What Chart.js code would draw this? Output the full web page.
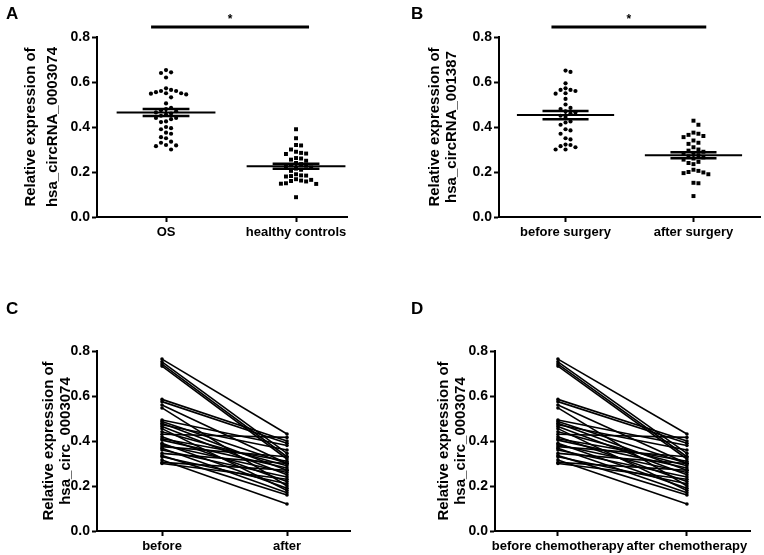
<!DOCTYPE html>
<html>
<head>
<meta charset="utf-8">
<script src="https://cdn.jsdelivr.net/npm/chart.js@4/dist/chart.umd.min.js"></script>
<style>
  body { margin: 0; background: #fff; }
  #fig { position: relative; width: 764px; height: 555px; background: #fff; }
  .panel { position: absolute; }
  .tag { position: absolute; font: bold 17px 'Liberation Sans', Arial, sans-serif; color: #000; }
</style>
</head>
<body>
<div id="fig">
  <canvas class="panel" id="chartA" width="382" height="250" style="left:0;top:0"></canvas>
  <canvas class="panel" id="chartB" width="382" height="250" style="left:382px;top:0"></canvas>
  <canvas class="panel" id="chartC" width="382" height="280" style="left:0;top:275px"></canvas>
  <canvas class="panel" id="chartD" width="382" height="280" style="left:382px;top:275px"></canvas>
  <div class="tag" style="left:6px;top:4px">A</div>
  <div class="tag" style="left:411px;top:4px">B</div>
  <div class="tag" style="left:6px;top:299px">C</div>
  <div class="tag" style="left:411px;top:299px">D</div>
</div>
<script>
// ── Data ────────────────────────────────────────────────
const yTicks = [0, 0.2, 0.4, 0.6, 0.8];

const catsA = ['OS', 'healthy controls'];
const osVals = [0.653, 0.643, 0.64, 0.62, 0.572, 0.565, 0.56, 0.56, 0.555, 0.55, 0.55, 0.548, 0.545,
  0.532, 0.505, 0.485, 0.48, 0.475, 0.47, 0.465, 0.46, 0.455, 0.45, 0.44, 0.44, 0.435, 0.425, 0.422,
  0.40, 0.395, 0.39, 0.375, 0.37, 0.355, 0.35, 0.335, 0.33, 0.32, 0.318, 0.315, 0.30];
const hcVals = [0.39, 0.35, 0.32, 0.318, 0.30, 0.29, 0.285, 0.282, 0.28, 0.262, 0.26, 0.255, 0.25,
  0.24, 0.235, 0.23, 0.228, 0.225, 0.22, 0.215, 0.21, 0.205, 0.19, 0.185, 0.184, 0.182, 0.18,
  0.168, 0.165, 0.162, 0.16, 0.158, 0.15, 0.148, 0.147, 0.088];

const catsB = ['before surgery', 'after surgery'];
const preSurg = [0.651, 0.645, 0.594, 0.572, 0.565, 0.565, 0.56, 0.55, 0.548, 0.525, 0.50,
  0.485, 0.48, 0.47, 0.465, 0.46, 0.45, 0.445, 0.425, 0.42, 0.41, 0.39, 0.385, 0.37, 0.35, 0.345,
  0.322, 0.32, 0.315, 0.31, 0.30, 0.30];
const postSurg = [0.428, 0.41, 0.375, 0.37, 0.365, 0.36, 0.355, 0.34, 0.33, 0.325,
  0.31, 0.30, 0.295, 0.29, 0.285, 0.28, 0.275, 0.27, 0.265, 0.26, 0.255,
  0.245, 0.24, 0.235, 0.21, 0.205, 0.20, 0.198, 0.195, 0.19, 0.152, 0.15, 0.093];

const catsC = ['before', 'after'];
const catsD = ['before chemotherapy', 'after chemotherapy'];
const pairBefore = [0.764, 0.752, 0.742, 0.733, 0.585, 0.575, 0.56, 0.547, 0.493, 0.487, 0.479, 0.472,
  0.464, 0.455, 0.441, 0.43, 0.419, 0.41, 0.404, 0.39, 0.383, 0.375, 0.368, 0.36, 0.345, 0.335,
  0.33, 0.316, 0.305, 0.30];
const pairAfter = [0.431, 0.345, 0.33, 0.32, 0.40, 0.39, 0.30, 0.20, 0.38, 0.30, 0.27, 0.36,
  0.25, 0.18, 0.29, 0.416, 0.22, 0.31, 0.28, 0.19, 0.26, 0.33, 0.17, 0.24, 0.30, 0.16,
  0.21, 0.12, 0.27, 0.23];

const sigLevel = 0.844;

// ── Helpers ─────────────────────────────────────────────
const FONT = "'Liberation Sans', Arial, sans-serif";
const black = '#000';

function meanSem(vals) {
  const n = vals.length;
  const m = vals.reduce((a, b) => a + b, 0) / n;
  const sd = Math.sqrt(vals.reduce((a, b) => a + (b - m) * (b - m), 0) / (n - 1));
  return { m, sem: sd / Math.sqrt(n) };
}

// simple beeswarm: spread points sideways so they do not overlap (px per unit passed in)
function swarm(vals, center, pxX, pxY, d) {
  const placed = [];
  vals.slice().sort((a, b) => b - a).forEach(v => {
    for (let k = 0; k < 40; k++) {
      const off = (k % 2 ? 1 : -1) * Math.ceil(k / 2) * d;
      const hit = placed.some(p => {
        const dx = (p.x - center) * pxX - off, dy = (p.y - v) * pxY;
        return dx * dx + dy * dy < d * d * 0.9;
      });
      if (!hit) { placed.push({ x: center + off / pxX, y: v }); break; }
    }
  });
  return placed;
}

function seg(x1, y1, x2, y2, w) {
  return { type: 'scatter', showLine: true, data: [{ x: x1, y: y1 }, { x: x2, y: y2 }],
    borderColor: black, borderWidth: w, pointRadius: 0, clip: false };
}

function meanBars(vals, c) {
  const { m, sem } = meanSem(vals);
  return [
    seg(c - 0.38, m, c + 0.38, m, 2),
    seg(c - 0.18, m + sem, c + 0.18, m + sem, 2.5),
    seg(c - 0.18, m - sem, c + 0.18, m - sem, 2.5),
    seg(c, m - sem, c, m + sem, 2),
  ];
}

function yAxis(lines, pad, width, lh, tsize) {
  return {
    min: 0, max: 0.8,
    afterBuildTicks: s => { s.ticks = yTicks.map(v => ({ value: v })); },
    ticks: { color: black, padding: 2, font: { family: FONT, size: tsize, weight: 'bold' },
      callback: v => v.toFixed(1) },
    grid: { drawOnChartArea: false, tickLength: 5, tickWidth: 2, tickColor: black },
    border: { color: black, width: 2 },
    title: { display: true, text: lines, color: black, padding: { top: pad, bottom: 0 },
      font: { family: FONT, size: 15, weight: 'bold', lineHeight: lh } },
    afterFit: s => { s.width = width; },
  };
}

function xAxis(min, max, labels, h) {
  return {
    type: 'linear', min, max,
    afterBuildTicks: s => { s.ticks = [{ value: 1 }, { value: 2 }]; },
    ticks: { color: black, padding: 3, autoSkip: false, maxRotation: 0,
      font: { family: FONT, size: 13, weight: 'bold' },
      callback: (v, i) => labels[i] },
    grid: { drawOnChartArea: false, tickLength: 5, tickWidth: 2, tickColor: black },
    border: { color: black, width: 2 },
    afterFit: s => { s.height = h; },
  };
}

// draws the "*" over the significance bar
const starPlugin = {
  id: 'star',
  afterDatasetsDraw(chart, args, opts) {
    if (!opts || !opts.show) return;
    const ctx = chart.ctx;
    ctx.save();
    ctx.fillStyle = black;
    ctx.font = `bold 12px ${FONT}`;
    ctx.textAlign = 'center';
    ctx.textBaseline = 'middle';
    ctx.fillText('*', chart.scales.x.getPixelForValue(opts.x), chart.scales.y.getPixelForValue(opts.y));
    ctx.restore();
  },
};

function baseOpts(pad, x, y, star) {
  return {
    responsive: false, animation: false,
    layout: { padding: pad },
    plugins: { legend: { display: false }, tooltip: { enabled: false }, star: star || { show: false } },
    scales: { x, y },
  };
}

// ── Scatter panels (A, B) ───────────────────────────────
function scatterPanel(id, g1, g2, cats, xr, ywidth, titleLines, tpad, lh, right, sigX) {
  const pxX = 129, pxY = 225;
  const datasets = [
    { data: swarm(g1, 1, pxX, pxY, 5), pointStyle: 'circle', pointRadius: 2.1,
      backgroundColor: black, borderColor: black, borderWidth: 0 },
    { data: swarm(g2, 2, pxX, pxY, 5), pointStyle: 'rect', pointRadius: 2.8,
      backgroundColor: black, borderColor: black, borderWidth: 0 },
    ...meanBars(g1, 1), ...meanBars(g2, 2),
    seg(sigX[0], sigLevel, sigX[1], sigLevel, 3),
  ];
  new Chart(document.getElementById(id), {
    type: 'scatter', data: { datasets },
    options: baseOpts({ top: 37, right, left: 0, bottom: 0 },
      xAxis(xr[0], xr[1], cats, 33), yAxis(titleLines, tpad, ywidth, lh, 14),
      { show: true, x: (sigX[0] + sigX[1]) / 2, y: 0.877 }),
    plugins: [starPlugin],
  });
}

// ── Paired panels (C, D) ────────────────────────────────
function pairedPanel(id, cats, xr, ywidth, titleLines, tpad, lh, right) {
  const datasets = pairBefore.map((b, i) => ({
    showLine: true, data: [{ x: 1, y: b }, { x: 2, y: pairAfter[i] }],
    borderColor: black, borderWidth: 1.6, pointRadius: 1.8,
    backgroundColor: black, pointBorderWidth: 0,
  }));
  new Chart(document.getElementById(id), {
    type: 'scatter', data: { datasets },
    options: baseOpts({ top: 76, right, left: 0, bottom: 0 },
      xAxis(xr[0], xr[1], cats, 24), yAxis(titleLines, tpad, ywidth, lh, 14)),
    plugins: [starPlugin],
  });
}

scatterPanel('chartA', osVals, hcVals, catsA, [0.469, 2.392], 97,
  ['Relative expression of', 'hsa_circRNA_0003074'], 20, 1.45, 35, [0.885, 2.1]);
scatterPanel('chartB', preSurg, postSurg, catsB, [0.48, 2.52], 117,
  ['Relative expression of', 'hsa_circRNA_001387'], 44, 1.15, 2, [0.89, 2.1]);
pairedPanel('chartC', catsC, [0.48, 2.504], 97,
  ['Relative expression of', 'hsa_circ_0003074'], 40, 1.15, 32);
pairedPanel('chartD', catsD, [0.512, 2.489], 113,
  ['Relative expression of', 'hsa_circ_0003074'], 53, 1.15, 14);
</script>
</body>
</html>
